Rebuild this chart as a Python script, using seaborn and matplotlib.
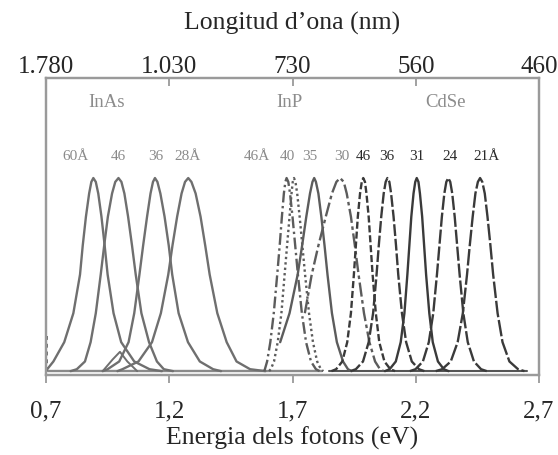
import matplotlib
matplotlib.use('Agg')
import matplotlib.pyplot as plt
import seaborn as sns
import numpy as np

nan = np.nan

# nivells normalitzats comuns a totes les corbes (esquerra -> pic -> dreta)
lv = [0, .01, .05, .15, .3, .5, .65, .8, .92, .98, 1, .98, .92, .8, .65, .5, .3, .15, .05, .01, 0]

# posicions en eV llegides per a cada nivell
inas_60 = [0.700, 0.705, 0.730, 0.774, 0.811, 0.838, 0.849, 0.862, 0.875, 0.884, 0.892,
           0.902, 0.912, 0.925, 0.938, 0.950, 0.974, 1.005, 1.058, 1.120, 1.170]
inas_46 = [0.800, 0.825, 0.858, 0.881, 0.902, 0.922, 0.936, 0.951, 0.968, 0.981, 0.994,
           1.006, 1.018, 1.033, 1.049, 1.064, 1.087, 1.118, 1.150, 1.178, 1.215]
inas_36 = [0.930, 0.950, 0.997, 1.035, 1.058, 1.079, 1.094, 1.110, 1.124, 1.134, 1.142,
           1.152, 1.164, 1.181, 1.198, 1.212, 1.238, 1.276, 1.324, 1.378, 1.410]
inas_28 = [0.990, 1.010, 1.075, 1.130, 1.166, 1.196, 1.213, 1.232, 1.250, 1.264, 1.277,
           1.290, 1.307, 1.327, 1.346, 1.364, 1.395, 1.433, 1.473, 1.528, 1.590]

inp_46 = [1.585, 1.588, 1.597, 1.610, 1.624, 1.638, 1.648, 1.657, 1.665, 1.671, 1.676,
          1.683, 1.690, 1.700, 1.711, 1.722, 1.738, 1.755, 1.775, 1.795, 1.810]
inp_40 = [1.605, 1.612, 1.625, 1.640, 1.655, 1.668, 1.678, 1.688, 1.696, 1.701, 1.706,
          1.712, 1.719, 1.729, 1.740, 1.751, 1.767, 1.783, 1.800, 1.815, 1.825]
inp_35 = [nan, nan, nan, 1.650, 1.688, 1.721, 1.739, 1.756, 1.771, 1.781, 1.788,
          1.795, 1.805, 1.817, 1.830, 1.842, 1.860, 1.880, 1.905, 1.925, 1.940]
inp_30 = [nan, nan, nan, nan, 1.750, 1.778, 1.805, 1.835, 1.860, 1.878, 1.893,
          1.908, 1.920, 1.937, 1.953, 1.968, 1.990, 2.012, 2.035, 2.055, 2.070]

cdse_46 = [1.858, 1.877, 1.902, 1.922, 1.937, 1.949, 1.957, 1.965, 1.974, 1.981, 1.987,
           1.994, 2.000, 2.009, 2.017, 2.025, 2.038, 2.052, 2.073, 2.097, 2.116]
cdse_36 = [1.935, 1.957, 1.986, 2.009, 2.027, 2.041, 2.050, 2.060, 2.070, 2.078, 2.085,
           2.093, 2.100, 2.110, 2.120, 2.129, 2.144, 2.161, 2.184, 2.213, 2.235]
cdse_31 = [2.075, 2.094, 2.119, 2.139, 2.154, 2.166, 2.174, 2.182, 2.191, 2.198, 2.204,
           2.211, 2.217, 2.226, 2.234, 2.242, 2.255, 2.269, 2.290, 2.314, 2.333]
cdse_24 = [2.176, 2.199, 2.229, 2.253, 2.271, 2.286, 2.296, 2.306, 2.316, 2.324, 2.332,
           2.340, 2.348, 2.358, 2.368, 2.378, 2.393, 2.411, 2.436, 2.465, 2.488]
cdse_21 = [2.281, 2.307, 2.342, 2.370, 2.391, 2.408, 2.419, 2.431, 2.442, 2.452, 2.461,
           2.470, 2.480, 2.491, 2.503, 2.514, 2.532, 2.552, 2.580, 2.615, 2.641]

# petit bony i línia base
bump_x = [0.93, 0.97, 1.00, 1.03, 1.07]
bump_y = [0.0, 0.06, 0.10, 0.05, 0.0]
base_x = [0.71, 1.82]
base2_x = [1.85, 2.65]

ev_ticks = [0.7, 1.2, 1.7, 2.2, 2.7]
ev_labels = ['0,7', '1,2', '1,7', '2,2', '2,7']
nm_labels = ['1.780', '1.030', '730', '560', '460']

groups = ['InAs', 'InP', 'CdSe']
sizes_inas = ['60Å', '46', '36', '28Å']
sizes_inp = ['46Å', '40', '35', '30']
sizes_cdse = ['46', '36', '31', '24', '21Å']

sns.set_style('white')
plt.rcParams['font.family'] = ['Liberation Serif', 'DejaVu Serif']

fig = plt.figure(figsize=(5.58, 4.55), dpi=100)
ax = fig.add_axes([46 / 558, 1 - 375 / 455, (539 - 46) / 558, (375 - 78) / 455])

c_inas = '#6f6f6f'
c_inp = '#5c5c5c'
c_cdse = '#3a3a3a'

curves = [
    (inas_60, c_inas, '-'), (inas_46, c_inas, '-'), (inas_36, c_inas, '-'), (inas_28, c_inas, '-'),
    (inp_46, c_inp, (0, (5, 1.5, 1, 1.5))), (inp_40, c_inp, (0, (1, 1.3))),
    (inp_35, c_inp, '-'), (inp_30, c_inp, (0, (6, 1.5, 1.5, 1.5))),
    (cdse_46, c_cdse, (0, (3, 1.2))), (cdse_36, c_cdse, (0, (5, 1.2))),
    (cdse_31, c_cdse, '-'), (cdse_24, c_cdse, (0, (6, 1.2))), (cdse_21, c_cdse, (0, (7, 1.2))),
]

sns.lineplot(x=base_x, y=[0, 0], color='#8a8a8a', lw=1.7, ax=ax)
sns.lineplot(x=base2_x, y=[0, 0], color='#555555', lw=1.5, ax=ax)
for xs, col, ls in curves:
    sns.lineplot(x=xs, y=lv, sort=False, estimator=None, color=col, lw=1.7,
                 linestyle=ls, ax=ax)
sns.lineplot(x=bump_x, y=bump_y, sort=False, estimator=None, color=c_inas, lw=1.4, ax=ax)
sns.lineplot(x=[0.705, 0.705], y=[0.0, 0.2], sort=False, estimator=None, color=c_inas,
             lw=1.4, linestyle=(0, (2, 2)), ax=ax)

ax.set_xlim(0.7, 2.7)
ax.set_ylim(-0.02, 1.518)
ax.set_yticks([])
ax.set_xticks(ev_ticks)
ax.set_xticklabels(ev_labels)
ax.tick_params(axis='x', direction='out', length=6, width=1.3, color='#9a9a9a',
               pad=12, labelsize=18)
for s in ax.spines.values():
    s.set_color('#9a9a9a')
    s.set_linewidth(1.6)
ax.set_xlabel('Energia dels fotons (eV)', fontsize=18.5, labelpad=3)

ax2 = ax.twiny()
ax2.set_xlim(ax.get_xlim())
ax2.set_xticks(ev_ticks)
ax2.set_xticklabels(nm_labels)
ax2.tick_params(axis='x', direction='in', length=6, width=1.3, color='#9a9a9a',
                pad=0, labelsize=18)
for s in ax2.spines.values():
    s.set_color('#9a9a9a')
    s.set_linewidth(1.6)
ax2.set_xlabel('Longitud d\u2019ona (nm)', fontsize=18.5, labelpad=19)

# etiquetes de grups i mides
for g, xpos in zip(groups, [0.947, 1.686, 2.319]):
    ax.text(xpos, 1.39, g, color='#8c8c8c', fontsize=13.5, ha='center', va='center')
for s, xpos in zip(sizes_inas, [0.818, 0.992, 1.146, 1.276]):
    ax.text(xpos, 1.11, s, color='#8a8a8a', fontsize=11, ha='center', va='center')
for s, xpos in zip(sizes_inp, [1.556, 1.678, 1.771, 1.901]):
    ax.text(xpos, 1.11, s, color='#8a8a8a', fontsize=11, ha='center', va='center')
for s, xpos in zip(sizes_cdse, [1.986, 2.083, 2.205, 2.339, 2.489]):
    ax.text(xpos, 1.11, s, color='#2a2a2a', fontsize=11, ha='center', va='center')

fig.savefig('out.png', dpi=100)
